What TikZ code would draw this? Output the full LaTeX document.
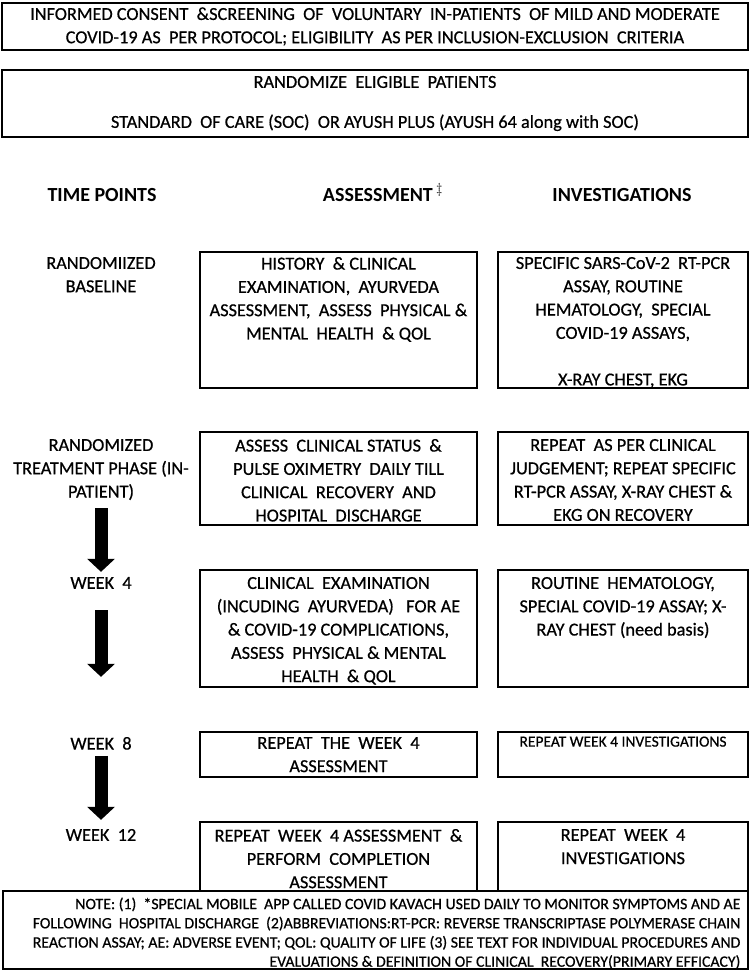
\documentclass[tikz,border=0pt]{standalone}
\usepackage{fontspec}
\setmainfont{Carlito}
\newfontfamily\boxfont{Carlito}[FakeBold=0.6]
\usepackage{tikz}
\usetikzlibrary{positioning,arrows.meta}

\begin{document}
\begin{tikzpicture}[x=1pt, y=-1pt,
    frame/.style={draw, line width=1.3pt, inner sep=0pt},
    boxtext/.style={align=center, inner sep=0pt, font=\boxfont\fontsize{18.3}{23.3}\selectfont},
    smalltext/.style={align=center, inner sep=0pt, font=\boxfont\fontsize{15.5}{19}\selectfont},
    header/.style={inner sep=0pt, anchor=base, font=\fontsize{20}{24}\selectfont\bfseries},
    notetext/.style={align=right, inner sep=0pt, font=\boxfont\fontsize{15.8}{19.2}\selectfont},
    bigarrow/.style={line width=13pt, -{Triangle[width=27pt, length=13pt]}}]

    \useasboundingbox (0,0) rectangle (750,972);
    \fill[white] (0,0) rectangle (750,972);

    % Screening and randomisation
    \node[frame, boxtext, minimum width=746pt, minimum height=47pt] (consent) at (375,26.5)
        {INFORMED CONSENT~ \&SCREENING~ OF~ VOLUNTARY~ IN-PATIENTS~ OF MILD AND MODERATE\\
         COVID-19 AS~ PER PROTOCOL; ELIGIBILITY~ AS PER INCLUSION-EXCLUSION~ CRITERIA};
    \node[frame, boxtext, minimum width=746pt, minimum height=67pt] (random) at (375,103.5)
        {RANDOMIZE~ ELIGIBLE~ PATIENTS\\[16.7pt]
         STANDARD~ OF CARE (SOC)~ OR AYUSH PLUS (AYUSH 64 along with SOC)};

    % Column headers
    \coordinate (tcol) at (101,0);
    \node[header] (htime) at (102,201.5) {TIME POINTS};
    \node[header] (hassess) at (383,201.5) {ASSESSMENT\,$^{\ddagger}$};
    \node[header] (hinvest) at (622,201.5) {INVESTIGATIONS};

    % Randomized baseline
    \node[frame, minimum width=277pt, minimum height=136pt] (a1) at (338.5,320) {};
    \node[frame, minimum width=250pt, minimum height=136pt] (i1) at (623,320) {};
    \node[boxtext, below=5.5pt of a1.north] (a1t)
        {HISTORY~ \& CLINICAL\\ EXAMINATION,~ AYURVEDA\\ ASSESSMENT,~ ASSESS~ PHYSICAL \&\\ MENTAL~ HEALTH~ \& QOL};
    \node[boxtext, below=5.5pt of i1.north] (i1t)
        {SPECIFIC SARS-CoV-2~ RT-PCR\\ ASSAY, ROUTINE\\ HEMATOLOGY,~ SPECIAL\\ COVID-19 ASSAYS,\\[23.3pt] X-RAY CHEST, EKG};
    \node[boxtext, anchor=north] (t1) at (tcol |- a1t.north) {RANDOMIIZED\\ BASELINE};

    % In-patient treatment phase
    \node[frame, minimum width=277pt, minimum height=93pt] (a2) at (338.5,478.5) {};
    \node[frame, minimum width=250pt, minimum height=93pt] (i2) at (623,478.5) {};
    \node[boxtext, below=7.5pt of a2.north] (a2t)
        {ASSESS~ CLINICAL STATUS~ \&\\ PULSE OXIMETRY~ DAILY TILL\\ CLINICAL~ RECOVERY~ AND\\ HOSPITAL~ DISCHARGE};
    \node[boxtext, below=7.5pt of i2.north] (i2t)
        {REPEAT~ AS PER CLINICAL\\ JUDGEMENT; REPEAT SPECIFIC\\ RT-PCR ASSAY, X-RAY CHEST \&\\ EKG ON RECOVERY};
    \node[boxtext, anchor=north] (t2) at (tcol |- a2t.north) {RANDOMIZED\\ TREATMENT PHASE (IN-\\ PATIENT)};

    % Week 4
    \node[frame, minimum width=277pt, minimum height=117pt] (a3) at (338.5,628.5) {};
    \node[frame, minimum width=250pt, minimum height=117pt] (i3) at (623,628.5) {};
    \node[boxtext, below=7.5pt of a3.north] (a3t)
        {CLINICAL~ EXAMINATION\\ (INCUDING~ AYURVEDA)~~ FOR AE\\ \& COVID-19 COMPLICATIONS,\\ ASSESS~ PHYSICAL \& MENTAL\\ HEALTH~ \& QOL};
    \node[boxtext, below=7.5pt of i3.north] (i3t)
        {ROUTINE~ HEMATOLOGY,\\ SPECIAL COVID-19 ASSAY; X-\\ RAY CHEST (need basis)};
    \node[boxtext, anchor=north] (t3) at (tcol |- a3t.north) {WEEK~ 4};

    % Week 8
    \node[frame, minimum width=277pt, minimum height=45pt] (a4) at (338.5,754.5) {};
    \node[frame, minimum width=250pt, minimum height=45pt] (i4) at (623,754.5) {};
    \node[boxtext, below=5.5pt of a4.north] (a4t) {REPEAT~ THE~ WEEK~ 4\\ ASSESSMENT};
    \node[smalltext, below=5pt of i4.north] (i4t) {REPEAT WEEK 4 INVESTIGATIONS};
    \node[boxtext, anchor=north] (t4) at (tcol |- a4t.north) {WEEK~ 8};

    % Week 12
    \node[frame, minimum width=277pt, minimum height=69pt] (a5) at (338.5,856.5) {};
    \node[frame, minimum width=250pt, minimum height=69pt] (i5) at (623,856.5) {};
    \node[boxtext, below=7.5pt of a5.north] (a5t)
        {REPEAT~ WEEK~ 4 ASSESSMENT~ \&\\ PERFORM~ COMPLETION\\ ASSESSMENT};
    \node[boxtext, below=7.5pt of i5.north] (i5t) {REPEAT~ WEEK~ 4\\ INVESTIGATIONS};
    \node[boxtext, anchor=north] (t5) at (tcol |- a5t.north) {WEEK~ 12};

    % Arrows between time points
    \draw[bigarrow] ([yshift=-8pt]t2.south) -- ([yshift=5pt]t3.north);
    \draw[bigarrow] ([yshift=-21pt]t3.south) -- ([yshift=60pt]t4.north);
    \draw[bigarrow] ([yshift=-6pt]t4.south) -- ([yshift=9pt]t5.north);

    % Footnote
    \node[frame, fill=white, minimum width=745pt, minimum height=78pt] (note) at (375.5,930) {};
    \node[notetext, below left=7pt and 8pt of note.north east] (notet)
        {NOTE: (1)~ *SPECIAL MOBILE~ APP CALLED COVID KAVACH USED DAILY TO MONITOR SYMPTOMS AND AE\\
         FOLLOWING~ HOSPITAL DISCHARGE~ (2)ABBREVIATIONS:RT-PCR: REVERSE TRANSCRIPTASE POLYMERASE CHAIN\\
         REACTION ASSAY; AE: ADVERSE EVENT; QOL: QUALITY OF LIFE (3) SEE TEXT FOR INDIVIDUAL PROCEDURES AND\\
         EVALUATIONS \& DEFINITION OF CLINICAL~ RECOVERY(PRIMARY EFFICACY)};
\end{tikzpicture}
\end{document}
